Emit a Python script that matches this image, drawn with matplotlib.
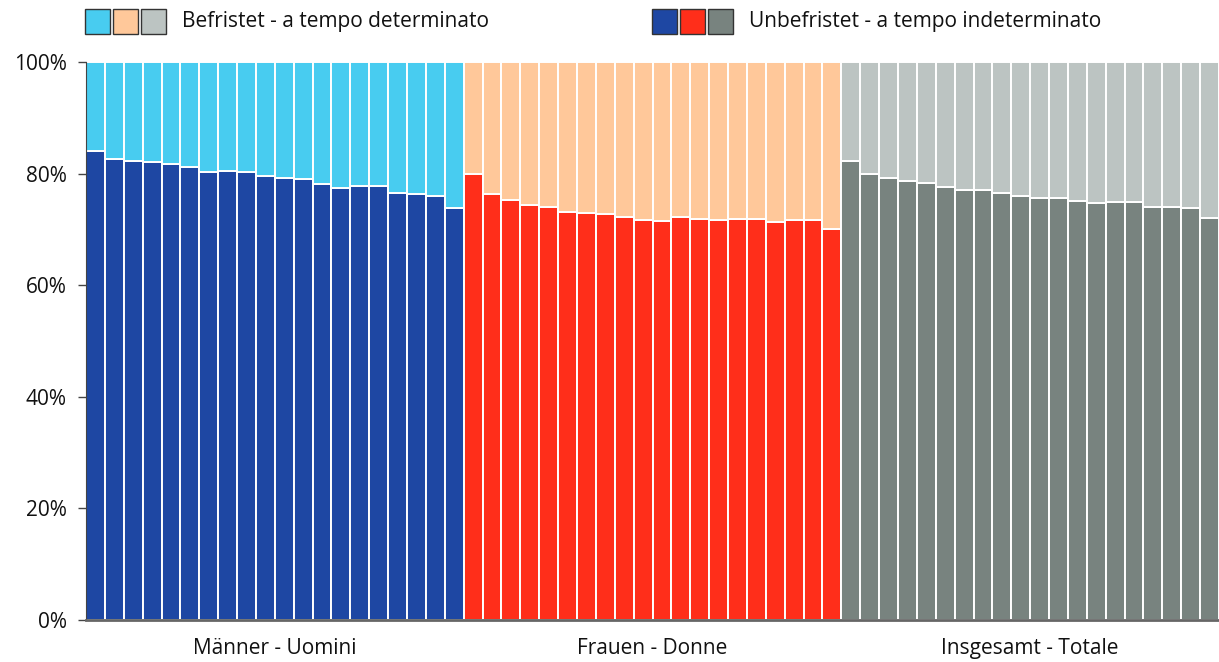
import matplotlib
matplotlib.use("Agg")
import matplotlib.pyplot as plt
from matplotlib.patches import Rectangle
import numpy as np

plt.rcParams['font.family'] = ['Open Sans', 'DejaVu Sans']

groups = ["Männer - Uomini", "Frauen - Donne", "Insgesamt - Totale"]
men_unbefristet = [84.0, 82.6, 82.2, 82.0, 81.7, 81.1, 80.3, 80.5, 80.3, 79.5,
                   79.2, 79.0, 78.1, 77.5, 77.8, 77.7, 76.5, 76.3, 76.0, 73.9]
women_unbefristet = [79.9, 76.3, 75.3, 74.4, 74.0, 73.2, 72.9, 72.7, 72.2, 71.6,
                     71.5, 72.2, 71.9, 71.6, 71.8, 71.8, 71.4, 71.6, 71.6, 70.0]
total_unbefristet = [82.2, 79.9, 79.2, 78.6, 78.3, 77.6, 77.0, 77.0, 76.6, 75.9,
                     75.6, 75.7, 75.1, 74.7, 75.0, 74.9, 74.0, 74.1, 73.8, 72.0]
dark_colors = ["#1e47a3", "#ff2e1a", "#78837f"]
light_colors = ["#48ccf0", "#ffc89a", "#bcc4c2"]
legend_labels = ["Befristet - a tempo determinato", "Unbefristet - a tempo indeterminato"]
yticks = [0, 20, 40, 60, 80, 100]

W, H = 1219, 662
fig = plt.figure(figsize=(W / 100, H / 100), dpi=100)
ax = fig.add_axes([86 / W, (H - 620) / H, (1219 - 86) / W, (620 - 62) / H])

series = [men_unbefristet, women_unbefristet, total_unbefristet]
n = len(men_unbefristet)
for g, vals in enumerate(series):
    vals = np.array(vals)
    x = np.arange(n) + g * n
    ax.bar(x, vals, width=1.0, align='edge', color=dark_colors[g],
           edgecolor='white', linewidth=1.4)
    ax.bar(x, 100 - vals, bottom=vals, width=1.0, align='edge',
           color=light_colors[g], edgecolor='white', linewidth=1.4)

ax.set_xlim(0, 3 * n)
ax.set_ylim(0, 100)
ax.set_yticks(yticks)
ax.set_yticklabels([f"{v}%" for v in yticks], fontsize=15, color='#111111')
ax.set_xticks([n / 2 + g * n for g in range(3)])
ax.set_xticklabels(groups, fontsize=15, color='#111111')
ax.tick_params(axis='x', length=0, pad=13)
ax.tick_params(axis='y', length=6, width=1, color='#444444', pad=8)
for s in ['top', 'right']:
    ax.spines[s].set_visible(False)
ax.spines['left'].set_color('#444444')
ax.spines['left'].set_zorder(5)
ax.spines['bottom'].set_color('#666666')
ax.spines['bottom'].set_linewidth(2)
ax.spines['bottom'].set_zorder(5)

# legend
def legend_block(x0, colors, label):
    for i, c in enumerate(colors):
        r = Rectangle(((x0 + i * 28) / W, (H - 34) / H), 25 / W, 25 / H,
                      transform=fig.transFigure, facecolor=c,
                      edgecolor='#333333', linewidth=1)
        fig.patches.append(r)
    fig.text((x0 + 3 * 28 + 13) / W, (H - 21) / H, label, fontsize=15,
             va='center', ha='left', color='#111111')

legend_block(85, light_colors, legend_labels[0])
legend_block(652, dark_colors, legend_labels[1])

fig.savefig("out.png", dpi=100)
